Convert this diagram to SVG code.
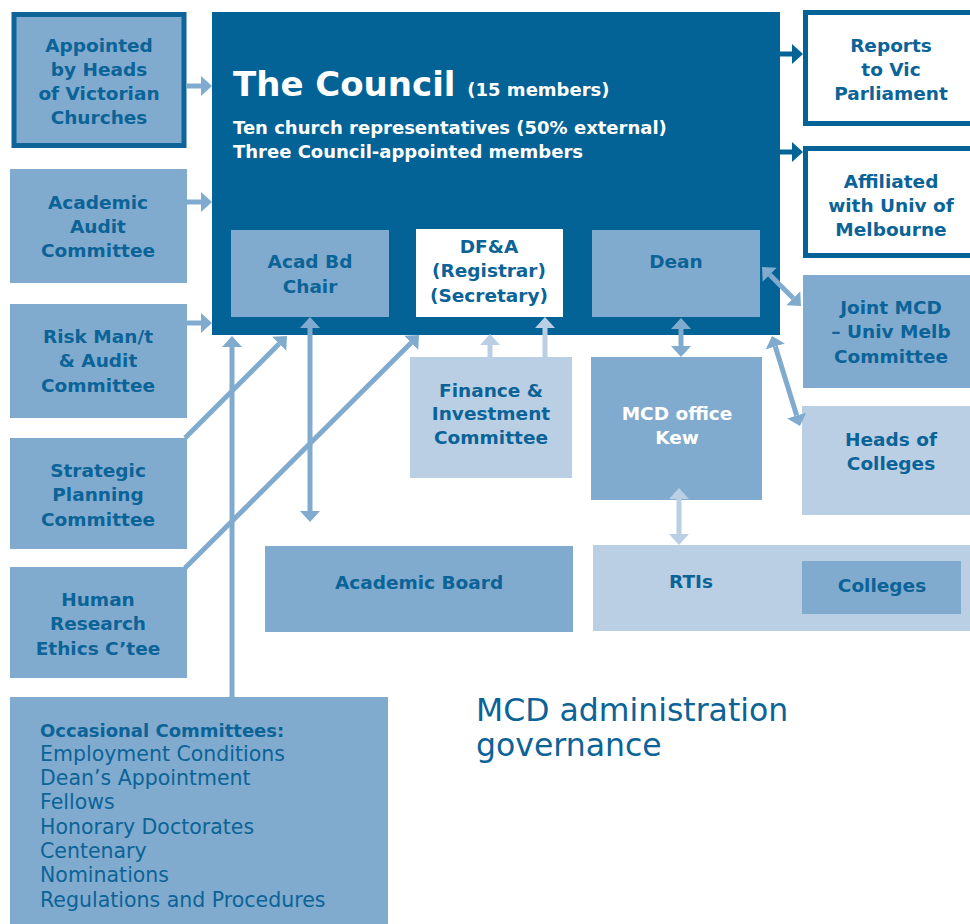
<svg xmlns="http://www.w3.org/2000/svg" width="970" height="924" viewBox="0 0 970 924">
<style>
.dark{fill:#036397}
.mid{fill:#80abce}
.light{fill:#bacfe4}
.wh{fill:#ffffff}
.bord{fill:#ffffff;stroke:#036397;stroke-width:5}
.bordm{fill:#80abce;stroke:#0d6599;stroke-width:5}
text{font-family:"DejaVu Sans","Liberation Sans",sans-serif;font-weight:bold;fill:#0b6397;text-anchor:middle;font-size:18.5px}
.w{fill:#ffffff}
.st{text-anchor:start}
.reg{font-weight:normal;font-size:20.5px}
.cl{stroke-width:5;fill:none}
.cm{stroke:#80abce}
.cli{stroke:#bacfe4}
.cd{stroke:#036397}
</style>
<defs>
<marker id="aM" viewBox="0 0 11 20" refX="0" refY="10" markerWidth="11" markerHeight="20" markerUnits="userSpaceOnUse" orient="auto-start-reverse"><path d="M0,0 L11,10 L0,20 Z" fill="#80abce"/></marker>
<marker id="aL" viewBox="0 0 11 20" refX="0" refY="10" markerWidth="11" markerHeight="20" markerUnits="userSpaceOnUse" orient="auto-start-reverse"><path d="M0,0 L11,10 L0,20 Z" fill="#bacfe4"/></marker>
<marker id="aD" viewBox="0 0 11 20" refX="0" refY="10" markerWidth="11" markerHeight="20" markerUnits="userSpaceOnUse" orient="auto-start-reverse"><path d="M0,0 L11,10 L0,20 Z" fill="#036397"/></marker>
</defs>

<g id="council">
<rect class="dark" x="212" y="12" width="568" height="323"/>
<text class="w st" x="233" y="96" style="font-size:34px">The Council <tspan style="font-size:18px">(15 members)</tspan></text>
<text class="w st" x="233" y="134" style="font-size:18px">Ten church representatives (50% external)</text>
<text class="w st" x="233" y="158" style="font-size:18px">Three Council-appointed members</text>
</g>

<g id="appointed">
<rect class="bordm" x="14" y="14.5" width="170" height="131"/>
<text x="99" y="52">Appointed</text>
<text x="99" y="76">by Heads</text>
<text x="99" y="100">of Victorian</text>
<text x="99" y="124">Churches</text>
</g>

<g id="academic-audit">
<rect class="mid" x="10" y="169" width="177" height="114"/>
<text x="98" y="209">Academic</text>
<text x="98" y="233">Audit</text>
<text x="98" y="257">Committee</text>
</g>

<g id="risk">
<rect class="mid" x="10" y="304" width="177" height="114"/>
<text x="98" y="343">Risk Man/t</text>
<text x="98" y="367">&amp; Audit</text>
<text x="98" y="392">Committee</text>
</g>

<g id="strategic">
<rect class="mid" x="10" y="438" width="177" height="111"/>
<text x="98" y="477">Strategic</text>
<text x="98" y="501">Planning</text>
<text x="98" y="526">Committee</text>
</g>

<g id="human">
<rect class="mid" x="10" y="567" width="177" height="111"/>
<text x="98" y="606">Human</text>
<text x="98" y="630">Research</text>
<text x="98" y="655">Ethics C’tee</text>
</g>

<g id="occasional">
<rect class="mid" x="10" y="697" width="378" height="230"/>
<text class="st" x="40" y="737" style="font-size:18px">Occasional Committees:</text>
<text class="st reg" x="40" y="761">Employment Conditions</text>
<text class="st reg" x="40" y="785">Dean’s Appointment</text>
<text class="st reg" x="40" y="809">Fellows</text>
<text class="st reg" x="40" y="834">Honorary Doctorates</text>
<text class="st reg" x="40" y="858">Centenary</text>
<text class="st reg" x="40" y="882">Nominations</text>
<text class="st reg" x="40" y="907">Regulations and Procedures</text>
</g>

<g id="acad-bd-chair">
<rect class="mid" x="231" y="230" width="158" height="87"/>
<text x="310" y="268">Acad Bd</text>
<text x="310" y="293">Chair</text>
</g>

<g id="dfa">
<rect class="wh" x="416" y="229" width="147" height="88"/>
<text x="489" y="253">DF&amp;A</text>
<text x="489" y="277">(Registrar)</text>
<text x="489" y="302">(Secretary)</text>
</g>

<g id="dean">
<rect class="mid" x="592" y="230" width="168" height="87"/>
<text x="676" y="268">Dean</text>
</g>

<g id="reports">
<rect class="bord" x="805.5" y="12.5" width="170" height="111"/>
<text x="891" y="52">Reports</text>
<text x="891" y="76">to Vic</text>
<text x="891" y="100">Parliament</text>
</g>

<g id="affiliated">
<rect class="bord" x="805.5" y="148.5" width="170" height="107"/>
<text x="891" y="188">Affiliated</text>
<text x="891" y="212">with Univ of</text>
<text x="891" y="236">Melbourne</text>
</g>

<g id="joint">
<rect class="mid" x="803" y="275" width="170" height="113"/>
<text x="891" y="314">Joint MCD</text>
<text x="891" y="338">– Univ Melb</text>
<text x="891" y="363">Committee</text>
</g>

<g id="heads">
<rect class="light" x="802" y="406" width="170" height="109"/>
<text x="891" y="446">Heads of</text>
<text x="891" y="470">Colleges</text>
</g>

<g id="finance">
<rect class="light" x="410" y="357" width="162" height="121"/>
<text x="491" y="397">Finance &amp;</text>
<text x="491" y="420">Investment</text>
<text x="491" y="444">Committee</text>
</g>

<g id="mcd-office">
<rect class="mid" x="591" y="357" width="171" height="143"/>
<text class="w" x="677" y="420">MCD office</text>
<text class="w" x="677" y="444">Kew</text>
</g>

<g id="academic-board">
<rect class="mid" x="265" y="546" width="308" height="86"/>
<text x="419" y="589">Academic Board</text>
</g>

<g id="rtis">
<rect class="light" x="593" y="545" width="380" height="86"/>
<text x="691" y="588">RTIs</text>
</g>

<g id="colleges">
<rect class="mid" x="802" y="561" width="159" height="53"/>
<text x="882" y="592">Colleges</text>
</g>

<g id="title">
<text class="st" x="476" y="721" style="font-weight:normal;font-size:31.5px">MCD administration</text>
<text class="st" x="476" y="756" style="font-weight:normal;font-size:31.5px">governance</text>
</g>

<g id="connectors">
<line class="cl cm" x1="187" y1="86" x2="201" y2="86" marker-end="url(#aM)"/>
<line class="cl cm" x1="187" y1="202" x2="201" y2="202" marker-end="url(#aM)"/>
<line class="cl cm" x1="187" y1="323" x2="201" y2="323" marker-end="url(#aM)"/>
<line class="cl cd" x1="780" y1="54" x2="792" y2="54" marker-end="url(#aD)"/>
<line class="cl cd" x1="780" y1="152" x2="792" y2="152" marker-end="url(#aD)"/>
<line class="cl cm" x1="232" y1="697" x2="232" y2="347" marker-end="url(#aM)"/>
<line class="cl cm" x1="185" y1="438" x2="279.2" y2="343.8" marker-end="url(#aM)"/>
<line class="cl cm" x1="185" y1="568" x2="411.2" y2="342.8" marker-end="url(#aM)"/>
<line class="cl cm" x1="310" y1="328" x2="310" y2="511" marker-start="url(#aM)" marker-end="url(#aM)"/>
<line class="cl cli" x1="490" y1="357" x2="490" y2="345" marker-end="url(#aL)"/>
<line class="cl cli" x1="545" y1="357" x2="545" y2="328" marker-end="url(#aL)"/>
<line class="cl cm" x1="681" y1="329" x2="681" y2="346" marker-start="url(#aM)" marker-end="url(#aM)"/>
<line class="cl cli" x1="679" y1="499" x2="679" y2="534" marker-start="url(#aL)" marker-end="url(#aL)"/>
<line class="cl cm" x1="769.8" y1="274.8" x2="793.2" y2="298.2" marker-start="url(#aM)" marker-end="url(#aM)"/>
<line class="cl cm" x1="775.3" y1="346.5" x2="796.7" y2="415.5" marker-start="url(#aM)" marker-end="url(#aM)"/>
</g>
</svg>
